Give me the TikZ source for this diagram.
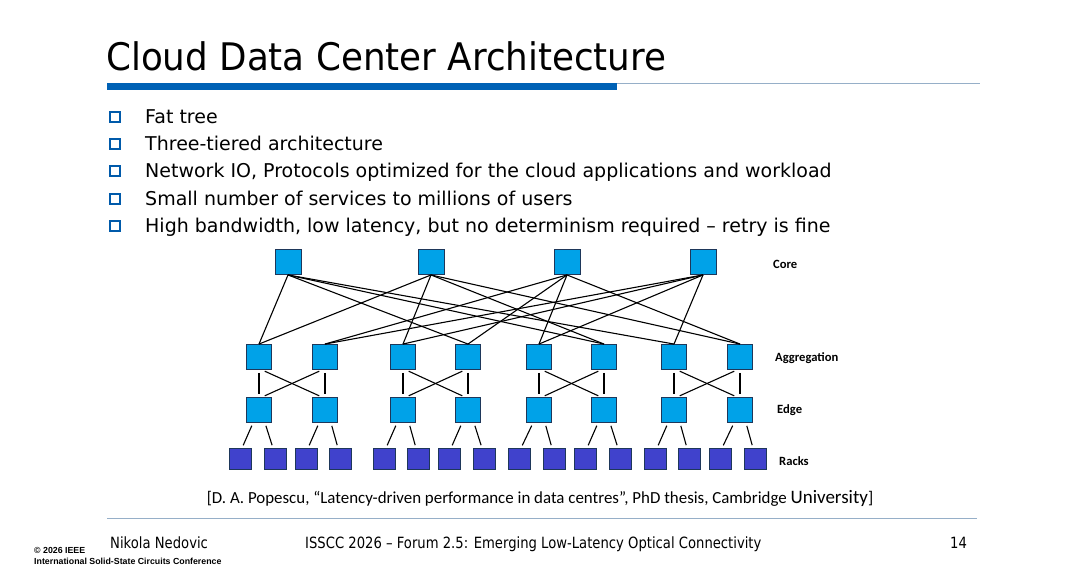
\documentclass[tikz,border=0pt]{standalone}
\usepackage{fontspec}
\setmainfont{DejaVu Sans}
\newfontfamily\calib{Carlito}
\newfontfamily\arialf{Liberation Sans}
\newfontfamily\titlef[FakeStretch=0.94]{DejaVu Sans}
\newfontfamily\footf[FakeStretch=0.85]{DejaVu Sans}
\definecolor{sw}{RGB}{0,162,232}
\definecolor{swb}{RGB}{30,55,90}
\definecolor{rk}{RGB}{64,66,204}
\definecolor{bar}{RGB}{0,97,181}
\definecolor{thinline}{RGB}{150,175,200}
\definecolor{bul}{RGB}{0,90,170}
\begin{document}
\begin{tikzpicture}[x=1pt,y=-1pt,
  corebox/.style={draw=swb,fill=sw,line width=0.9pt,minimum width=26pt,minimum height=25pt,inner sep=0pt},
  aggbox/.style={draw=swb,fill=sw,line width=0.9pt,minimum width=25pt,minimum height=25pt,inner sep=0pt},
  rackbox/.style={draw=swb,fill=rk,line width=0.9pt,minimum width=22pt,minimum height=21pt,inner sep=0pt},
  wire/.style={draw=black,line width=1.1pt},
  tier/.style={font=\calib\bfseries\fontsize{12.6}{14}\selectfont,anchor=west,inner sep=0pt},
  bullet/.style={draw=bul,line width=1.2pt,minimum width=10pt,minimum height=10pt,inner sep=0pt},
  btext/.style={font=\fontsize{19}{22}\selectfont,anchor=base west,inner sep=0pt}]
\useasboundingbox (0,0) rectangle (1080,568);
\fill[white] (0,0) rectangle (1080,568);
% title
\node[anchor=base west,inner sep=0pt,font=\titlef\fontsize{38}{44}\selectfont] (title) at (106,70) {Cloud Data Center Architecture};
\fill[bar] (107,83) rectangle (617,90);
\draw[thinline,line width=1pt] (617,83) -- (980,83);
% bullets
\foreach \y/\t [count=\i] in {117/Fat tree,144/Three-tiered architecture,171/{Network IO, Protocols optimized for the cloud applications and workload},199/Small number of services to millions of users,226/{High bandwidth, low latency, but no determinism required – retry is fine}}{
  \node[bullet] (b\i) at (115,\y) {};
  \node[btext] (t\i) at (145,\y+6.5) {\t};
}
% core
\foreach \x [count=\i] in {288,431,567,703} \node[corebox] (c\i) at (\x,262) {};
% agg, edge
\foreach \x [count=\i] in {259,325,403,468,539,604,674,740}{
  \node[aggbox] (a\i) at (\x,357) {};
  \node[aggbox] (e\i) at (\x,410) {};
}
% racks
\foreach \x [count=\i] in {240,275,306,340,384,418,449,484,519,554,585,620,655,689,720,755}
  \node[rackbox] (r\i) at (\x,459) {};
% core-agg
\foreach \c/\a in {1/1,1/4,1/6,1/7,2/1,2/3,2/6,2/8,3/2,3/4,3/5,3/8,4/2,4/3,4/5,4/7}
  \draw[wire] (c\c.south) -- (a\a.north);
% agg-edge
\foreach \l/\r in {1/2,3/4,5/6,7/8}{
  \draw[wire,shorten <=3pt,shorten >=3pt] (a\l.south) -- (e\l.north);
  \draw[wire,shorten <=3pt,shorten >=3pt] (a\r.south) -- (e\r.north);
  \draw[wire,shorten <=3pt,shorten >=3pt] ([xshift=3pt]a\l.south) -- ([xshift=-3pt]e\r.north);
  \draw[wire,shorten <=3pt,shorten >=3pt] ([xshift=-3pt]a\r.south) -- ([xshift=3pt]e\l.north);
}
% edge-racks
\foreach \e in {1,...,8}{
  \pgfmathtruncatemacro{\ra}{2*\e-1}
  \pgfmathtruncatemacro{\rb}{2*\e}
  \draw[wire,shorten <=3pt,shorten >=3pt] ([xshift=-6pt]e\e.south) -- ([xshift=2pt]r\ra.north);
  \draw[wire,shorten <=3pt,shorten >=3pt] ([xshift=6pt]e\e.south) -- ([xshift=-2pt]r\rb.north);
}
% tier labels
\node[tier] (lc) at (773,264) {Core};
\node[tier] (la) at (775,358) {Aggregation};
\node[tier] (le) at (777,410) {Edge};
\node[tier] (lr) at (779,461) {Racks};
% citation
\node[anchor=base,inner sep=0pt,font=\calib\fontsize{16.9}{19}\selectfont] (cite) at (540,503) {[D. A. Popescu, “Latency-driven performance in data centres”, PhD thesis, Cambridge {\fontsize{19}{20}\selectfont University}]};
% footer
\draw[thinline,line width=0.8pt] (107,518) -- (977,518);
\node[anchor=base west,inner sep=0pt,font=\footf\fontsize{15.5}{17}\selectfont] (fa) at (110,548) {Nikola Nedovic};
\node[anchor=base west,inner sep=0pt,font=\footf\fontsize{15.5}{17}\selectfont] (fb) at (305,548) {ISSCC 2026 – Forum 2.5: Emerging Low-Latency Optical Connectivity};
\node[anchor=base west,inner sep=0pt,font=\footf\fontsize{15.5}{17}\selectfont] (fc) at (950,548) {14};
\node[anchor=base west,inner sep=0pt,font=\arialf\bfseries\fontsize{8.8}{10}\selectfont] (f1) at (34,553) {© 2026 IEEE};
\node[anchor=base west,inner sep=0pt,font=\arialf\bfseries\fontsize{8.8}{10}\selectfont] (f2) at (34,564) {International Solid-State Circuits Conference};
\end{tikzpicture}
\end{document}
